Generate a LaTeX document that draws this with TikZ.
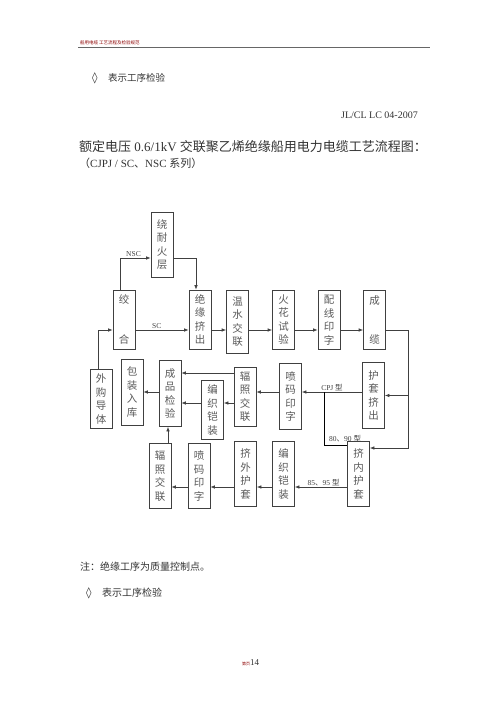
\documentclass[tikz,border=0pt]{standalone}
\usepackage{fontspec}
\setmainfont{Liberation Serif}
\newfontfamily\cjk{Noto Sans CJK SC}
\newfontfamily\symb{DejaVu Sans}
\usetikzlibrary{arrows.meta}

\begin{document}
\begin{tikzpicture}[x=1pt,y=-1pt]
    \tikzset{proc/.style={draw=black!75, line width=0.7pt, minimum width=22pt, minimum height=#1,
        inner sep=0pt, align=center, text=black!65, font=\cjk\fontsize{10.5}{13.5}\selectfont},
      proc/.default=59pt,
      flow/.style={draw=black!75, line width=0.7pt, -{Latex[length=4.5pt,width=3.5pt]}},
      tag/.style={font=\fontsize{7.5}{8}\selectfont, text=black!75, inner sep=1pt},
      note/.style={anchor=west, inner sep=0pt, text=black!80}}
    \useasboundingbox (0,0) rectangle (500,707);

    % page head and titles
    \draw[black!60, line width=0.8pt] (78,47) -- (430,47);
    \draw (80,43) node (head) [note, text=red!55!black, font=\cjk\fontsize{4.5}{5}\selectfont] {船用电缆\ 工艺流程及检验规范};
    \draw (92,78) node (mark1) [note, font=\symb\fontsize{11}{12}\selectfont] {◊};
    \draw (108,78) node (legend1) [note, font=\cjk\fontsize{9.5}{11}\selectfont] {表示工序检验};
    \draw (418,115) node (docno) [note, anchor=east, font=\fontsize{10}{12}\selectfont] {JL/CL LC 04-2007};
    \draw (79,147) node (title) [note, font=\fontsize{13}{15}\selectfont] {{\cjk 额定电压} 0.6/1kV {\cjk 交联聚乙烯绝缘船用电力电缆工艺流程图：}};
    \draw (79,163) node (series) [note, font=\fontsize{11}{13}\selectfont] {{\cjk （}CJPJ / SC{\cjk 、}NSC {\cjk 系列）}};

    % first row
    \draw (162,244.5) node (naihuo) [proc=65pt] {绕\\耐\\火\\层};
    \draw (124,319.5) node (jiaohe) [proc] {绞\\[26pt]合};
    \draw (200,319.5) node (jueyuan) [proc] {绝\\缘\\挤\\出};
    \draw (237.5,321.5) node (wenshui) [proc=63pt] {温\\水\\交\\联};
    \draw (283.5,319.5) node (huohua) [proc] {火\\花\\试\\验};
    \draw (329,320) node (peixian) [proc] {配\\线\\印\\字};
    \draw (374.5,320) node (chenglan) [proc] {成\\[26pt]缆};

    % second row
    \draw (101,399) node (waigou) [proc] {外\\购\\导\\体};
    \draw (132,392) node (baozhuang) [proc=66pt] {包\\装\\入\\库};
    \draw (170,393.5) node (jianyan) [proc=66pt] {成\\品\\检\\验};
    \draw (212.5,410) node (bianzhi1) [proc] {编\\织\\铠\\装};
    \draw (245,396.5) node (fuzhao1) [proc] {辐\\照\\交\\联};
    \draw (290.5,396.5) node (penma1) [proc=66pt] {喷\\码\\印\\字};
    \draw (373.5,395.5) node (hutao) [proc=66pt] {护\\套\\挤\\出};

    % third row
    \draw (160,476) node (fuzhao2) [proc=65pt] {辐\\照\\交\\联};
    \draw (199,476) node (penma2) [proc=65pt] {喷\\码\\印\\字};
    \draw (245.5,474) node (jiwai) [proc=65pt] {挤\\外\\护\\套};
    \draw (283.5,474) node (bianzhi2) [proc=65pt] {编\\织\\铠\\装};
    \draw (358.5,474) node (neihu) [proc=65pt] {挤\\内\\护\\套};

    % levels of the connectors
    \coordinate (nscrow) at (0,258);
    \coordinate (row1) at (0,330);
    \coordinate (r2a) at (0,373);
    \coordinate (r2c) at (0,392);
    \coordinate (r2b) at (0,403);
    \coordinate (row3) at (0,448);
    \coordinate (row4) at (0,487);
    \coordinate (trunk) at (408,0);
    \coordinate (branch) at (324,0);

    \draw[flow] (waigou.north -| 98,0) |- (jiaohe.west |- row1);
    \draw[flow] (jiaohe.east |- row1) -- node[tag, above, pos=0.4] {SC} (jueyuan.west |- row1);
    \draw[flow] ([xshift=-4pt]jiaohe.north) |- node[tag, above, pos=0.72] {NSC} (naihuo.west |- nscrow);
    \draw[flow] (naihuo.east |- nscrow) -| ([xshift=-4pt]jueyuan.north);
    \draw[flow] (jueyuan.east |- row1) -- (wenshui.west |- row1);
    \draw[flow] (wenshui.east |- row1) -- (huohua.west |- row1);
    \draw[flow] (huohua.east |- row1) -- (peixian.west |- row1);
    \draw[flow] (peixian.east |- row1) -- (chenglan.west |- row1);
    \draw[flow] (chenglan.east |- row1) -| (trunk |- row3) -- (neihu.east |- row3);
    \draw[flow] (trunk |- hutao.east) -- (hutao.east);
    \draw[flow] (hutao.west |- r2c) -- node[tag, above, pos=0.5] {CPJ {\cjk 型}} (penma1.east |- r2c);
    \draw ([yshift=-4pt]neihu.north west) -| node[tag, anchor=south west, pos=0.5, xshift=4pt, yshift=2pt] {80{\cjk 、}90 {\cjk 型}} (branch |- r2c);
    \draw[flow] (neihu.west |- row4) -- node[tag, above, pos=0.45] {85{\cjk 、}95 {\cjk 型}} (bianzhi2.east |- row4);
    \draw[flow] (penma1.west |- r2c) -- (fuzhao1.east |- r2c);
    \draw[flow] (fuzhao1.west |- r2a) -- (jianyan.east |- r2a);
    \draw[flow] (fuzhao1.west |- r2b) -- (bianzhi1.east |- r2b);
    \draw[flow] (bianzhi1.west |- r2b) -- (jianyan.east |- r2b);
    \draw[flow] (jianyan.west |- baozhuang.east) -- (baozhuang.east);
    \draw[flow] (bianzhi2.west |- row4) -- (jiwai.east |- row4);
    \draw[flow] (jiwai.west |- row4) -- (penma2.east |- row4);
    \draw[flow] (penma2.west |- row4) -- (fuzhao2.east |- row4);
    \draw[flow] ([xshift=-2pt]jianyan.south |- fuzhao2.north) -- ([xshift=-2pt]jianyan.south);

    % notes at the foot
    \draw (80,567) node (remark) [note, font=\cjk\fontsize{10}{12}\selectfont] {注：绝缘工序为质量控制点。};
    \draw (86,593) node (mark2) [note, font=\symb\fontsize{11}{12}\selectfont] {◊};
    \draw (102,593) node (legend2) [note, font=\cjk\fontsize{10}{12}\selectfont] {表示工序检验};
    \draw (242,663) node (page) [note, font=\fontsize{9}{10}\selectfont] {{\cjk\fontsize{4}{5}\selectfont\color{red!55!black}第页}14};
\end{tikzpicture}
\end{document}
